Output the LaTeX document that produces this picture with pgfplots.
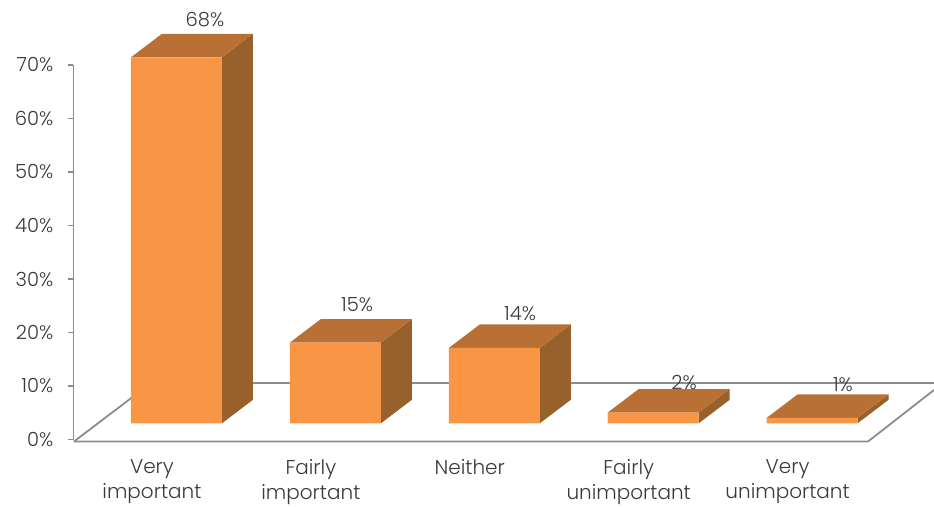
\documentclass[border=0pt]{standalone}
\usepackage{pgfplots}
\pgfplotsset{compat=1.18}
\usepackage{pgfplotstable}
\usepackage{fontspec}
\setmainfont{Poppins Light}

\definecolor{frontface}{HTML}{F89646}
\definecolor{topface}{HTML}{B97035}
\definecolor{sideface}{HTML}{98602B}
\definecolor{axisgray}{HTML}{8C8C8C}
\definecolor{labeltext}{HTML}{3A3A3A}

% Survey shares, one row per answer
\pgfplotstableread{
x v
0 68
1 15
2 14
3 2
4 1
}\sharedata

% Where the value labels sit, above the back edge of each box
\pgfplotstableread{
x y label
0.179 73.63 68\%
1.136 20.68 15\%
2.162 19.19 14\%
3.194 6.19 2\%
4.194 5.82 1\%
}\valuelabels

% Half the width of a box and its oblique depth, in axis units
\newcommand{\halfw}{0.2863}
\newcommand{\depthx}{0.195}
\newcommand{\depthy}{4.366}

% Top and right faces of the box for category #1 with value #2
\newcommand{\boxfaces}[2]{%
  \pgfmathsetmacro\xl{#1-\halfw}%
  \pgfmathsetmacro\xr{#1+\halfw}%
  \pgfmathsetmacro\xlb{\xl+\depthx}%
  \pgfmathsetmacro\xrb{\xr+\depthx}%
  \pgfmathsetmacro\yb{#2+\depthy}%
  \addplot[fill=sideface, draw=none, forget plot] coordinates
    {(\xr,0) (\xr,#2) (\xrb,\yb) (\xrb,\depthy)} -- cycle;
  \addplot[fill=topface, draw=none, forget plot] coordinates
    {(\xl,#2) (\xr,#2) (\xrb,\yb) (\xlb,\yb)} -- cycle;
}

\pgfplotsset{
  shared box/.style={
    at={(0,0)}, anchor=south west,
    width=860.5pt, height=374.5pt, scale only axis,
    xmin=-0.648, xmax=4.767,
    clip=false,
  },
}

\begin{document}
\begin{tikzpicture}
\path[use as bounding box] (-73.5pt,-66.5pt) rectangle (860.5pt,439.5pt);

% Value axis and the floor of the chart
\begin{axis}[
  shared box,
  ymin=0, ymax=70,
  axis y line=left, axis x line=bottom,
  axis line style={draw=axisgray, line width=1.8pt, -},
  x axis line style={draw=none},
  ytick={0,10,...,70},
  yticklabels={0\%,10\%,20\%,30\%,40\%,50\%,60\%,70\%},
  xtick={0,1,2,3,4},
  xticklabels={{Very\\important},{Fairly\\important},{Neither},{Fairly\\unimportant},{Very\\unimportant}},
  tick align=outside,
  ytick style={draw=axisgray, line width=1.4pt},
  xtick style={draw=none},
  major tick length=5pt,
  y tick label style={font=\fontsize{19.5}{22}\selectfont, text=labeltext, inner sep=0pt, xshift=-15pt},
  x tick label style={font=\fontsize{20}{25}\selectfont, text=labeltext, align=center,
    anchor=north, inner sep=0pt, xshift=-24.5pt, yshift=-15pt},
]
\addplot[draw=axisgray, line width=1.8pt, forget plot] coordinates
  {(-0.645,-0.37) (4.352,-0.37) (4.767,9.25)};
\addplot[draw=axisgray, line width=1.8pt, forget plot] coordinates
  {(-0.645,-0.37) (-0.160,10.56) (4.767,10.56)};
\end{axis}

% Boxes, on the same frame with their own value scale
\begin{axis}[
  shared box,
  ymin=-3.01, ymax=66.57,
  hide axis,
]
\boxfaces{0}{68}
\boxfaces{1}{15}
\boxfaces{2}{14}
\boxfaces{3}{2}
\boxfaces{4}{1}
\addplot[ybar, bar width=91pt, bar shift=0pt, fill=frontface, draw=none]
  table[x=x, y=v] {\sharedata};
\addplot[draw=none, mark=none,
  nodes near coords,
  point meta=explicit symbolic,
  every node near coord/.style={anchor=base, inner sep=0pt, text=labeltext,
    font=\fontsize{19.5}{22}\selectfont},
] table[x=x, y=y, meta=label] {\valuelabels};
\end{axis}
\end{tikzpicture}
\end{document}
